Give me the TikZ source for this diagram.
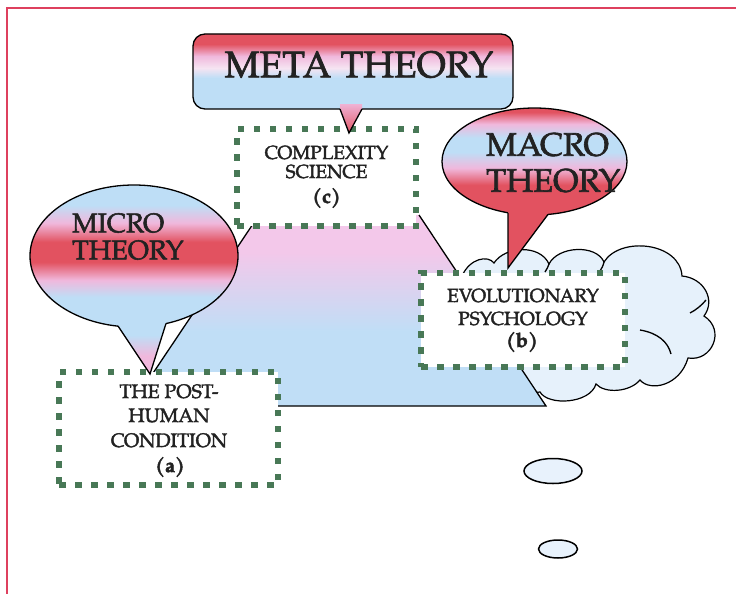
\documentclass[tikz,border=0pt]{standalone}
\usepackage{fontspec}
\setmainfont{TeX Gyre Pagella}[FakeBold=2]
\usetikzlibrary{shapes.geometric}
\definecolor{cred}{RGB}{226,82,96}
\definecolor{cpink}{RGB}{240,184,220}
\definecolor{cpale}{RGB}{246,228,242}
\definecolor{cblue}{RGB}{190,222,246}
\definecolor{tpink}{RGB}{243,200,234}
\definecolor{tblue}{RGB}{192,222,246}
\definecolor{boxgreen}{RGB}{72,120,86}
\definecolor{txt}{RGB}{34,34,34}
\definecolor{framered}{RGB}{222,64,94}
\definecolor{cloudfill}{RGB}{230,241,251}
\definecolor{bubblefill}{RGB}{232,242,252}

% vertical colour runs: 25bp = bottom of the shaded box, 75bp = top
\pgfdeclareverticalshading{micrograd}{100bp}{color(0bp)=(cpink); color(25bp)=(cpink); color(30bp)=(cpink);
  color(35.5bp)=(cblue); color(45.5bp)=(cblue); color(50bp)=(cpink); color(54.7bp)=(cred);
  color(60bp)=(cred); color(65bp)=(cpink); color(69.7bp)=(cblue); color(75bp)=(cblue); color(100bp)=(cblue)}
\pgfdeclareverticalshading{macrograd}{100bp}{color(0bp)=(cred); color(25bp)=(cred); color(50.8bp)=(cred);
  color(56bp)=(cpink); color(61bp)=(cblue); color(65.4bp)=(cblue); color(69.7bp)=(cpink);
  color(73.4bp)=(cred); color(75bp)=(cred); color(100bp)=(cred)}
\pgfdeclareverticalshading{metagrad}{100bp}{color(0bp)=(cblue); color(25bp)=(cblue); color(45.5bp)=(cblue);
  color(51.9bp)=(cpale); color(59.6bp)=(cpink); color(67.3bp)=(cred); color(75bp)=(cred); color(100bp)=(cred)}
\pgfdeclareverticalshading{plategrad}{100bp}{color(0bp)=(tblue); color(25bp)=(tblue); color(44.6bp)=(tblue);
  color(65.2bp)=(tpink); color(75bp)=(tpink); color(100bp)=(tpink)}

\begin{document}
\begin{tikzpicture}[x=1pt,y=-1pt,
  outline/.style={draw=black, line width=1.3pt},
  topicbox/.style={draw=boxgreen, fill=white, line width=6.5pt, dash pattern=on 6.5pt off 9.5pt, inner sep=0pt},
  lbl/.style={text=txt, inner sep=0pt, anchor=base, font=\fontsize{19}{21}\selectfont},
  lblb/.style={text=txt, inner sep=0pt, anchor=base, font=\bfseries\fontsize{20}{22}\selectfont},
  bigtxt/.style={text=txt, inner sep=0pt, align=left}]
\useasboundingbox (0,0) rectangle (736,594);

% page frame
\draw[framered, line width=2pt] (7,594) -- (7,8) -- (736,8);

% thought cloud
\path[fill=cloudfill, draw=black, line width=1.2pt] (462,276)
  .. controls (470,258) and (488,255) .. (494,263)
  .. controls (505,246) and (540,244) .. (549,264)
  .. controls (558,246) and (596,244) .. (604,262)
  .. controls (620,236) and (680,242) .. (682,276)
  .. controls (704,278) and (716,300) .. (704,316)
  .. controls (726,330) and (712,362) .. (688,358)
  .. controls (680,386) and (650,392) .. (640,380)
  .. controls (630,392) and (605,394) .. (596,384)
  .. controls (590,404) and (548,406) .. (540,392)
  .. controls (480,400) and (455,360) .. (470,340)
  .. controls (445,330) and (445,290) .. cycle;
\draw[outline] (640,330) .. controls (658,333) and (668,342) .. (671,354);
\draw[outline] (690,313) .. controls (696,310) and (702,305) .. (706,300);
\draw[outline] (604,262) .. controls (603,266) and (602,268) .. (600,271);
\draw[outline] (549,264) .. controls (548,267) and (547,269) .. (545,272);

% trailing thought bubbles
\node[ellipse, fill=bubblefill, draw=black, line width=1.5pt, minimum width=58, minimum height=25, inner sep=0pt] (bubbleA) at (553,471) {};
\node[ellipse, fill=bubblefill, draw=black, line width=1.5pt, minimum width=39, minimum height=18, inner sep=0pt] (bubbleB) at (558,549) {};

% linking plate
\shade[shading=plategrad] (131,406) -- (259,215) -- (419,215) -- (546,406) -- cycle;
\draw[outline] (259,215) -- (131,406) -- (546,406) -- (419,215);

% topic boxes
\node[topicbox, minimum width=179, minimum height=97] (boxc) at (326.5,177.5) {};
\node[topicbox, minimum width=219, minimum height=113] (boxa) at (168.5,428.5) {};
\node[topicbox, minimum width=204, minimum height=94] (boxb) at (523,320) {};

% META THEORY callout
\begin{scope}
  \clip[rounded corners=12pt] (193,34) rectangle (513,109);
  \shade[shading=metagrad] (190,32) rectangle (516,110);
\end{scope}
\draw[outline, rounded corners=12pt] (193,34) rectangle (513,109);
\begin{scope}
  \clip (349,133) -- (340,108.5) -- (340,104) -- (362,104) -- (362,108.5) -- cycle;
  \shade[top color=cpink, bottom color=cred] (336,102) rectangle (366,135);
\end{scope}
\draw[outline] (340,109) -- (349,133) -- (362,109);

% MACRO THEORY callout
\begin{scope}
  \clip (534.5,161.5) ellipse [x radius=92.5, y radius=53.5];
  \shade[shading=macrograd] (440,107) rectangle (630,268);
\end{scope}
\draw[outline] (534.5,161.5) ellipse [x radius=92.5, y radius=53.5];
\begin{scope}
  \clip (508,268) -- (508,213) -- (508.5,205) -- (548,205) -- (548,214.4) -- cycle;
  \shade[shading=macrograd] (440,107) rectangle (630,268);
\end{scope}
\draw[outline] (508,212.8) -- (508,268) -- (548,214.4);

% MICRO THEORY callout
\begin{scope}
  \clip (134,256) ellipse [x radius=104, y radius=71];
  \shade[shading=micrograd] (28,185) rectangle (240,375);
\end{scope}
\draw[outline] (134,256) ellipse [x radius=104, y radius=71];
\begin{scope}
  \clip (150,374) -- (118,326) -- (119,317) -- (165,315) -- (166,323.5) -- cycle;
  \shade[shading=micrograd] (28,185) rectangle (240,375);
\end{scope}
\draw[outline] (118,326) -- (150,374) -- (166,323.5);

% callout captions
\node[bigtxt, font=\fontsize{37}{40}\selectfont] (metatext) at (359,64.5) {META THEORY};
\node[bigtxt, anchor=west, font=\fontsize{32.5}{36}\selectfont] (macrotext) at (486,162.5) {MACRO\\THEORY};
\node[bigtxt, anchor=west, font=\fontsize{27}{27}\selectfont] (microtext) at (72,236.5) {MICRO\\THEORY};

% box captions
\node[lbl] (c1) at (326.5,159) {COMPLEXITY};
\node[lbl] (c2) at (326.5,178) {SCIENCE};
\node[lblb] (c3) at (326.5,203) {(c)};

\node[lbl, font=\fontsize{19.5}{21}\selectfont] (a1) at (169,398) {THE POST-};
\node[lbl, font=\fontsize{19.5}{21}\selectfont] (a2) at (169,422) {HUMAN};
\node[lbl, font=\fontsize{19.5}{21}\selectfont] (a3) at (169,447) {CONDITION};
\node[lblb] (a4) at (170,472) {(a)};

\node[lbl] (b1) at (523,302) {EVOLUTIONARY};
\node[lbl] (b2) at (523,325) {PSYCHOLOGY};
\node[lblb] (b3) at (522,347) {(b)};
\end{tikzpicture}
\end{document}
